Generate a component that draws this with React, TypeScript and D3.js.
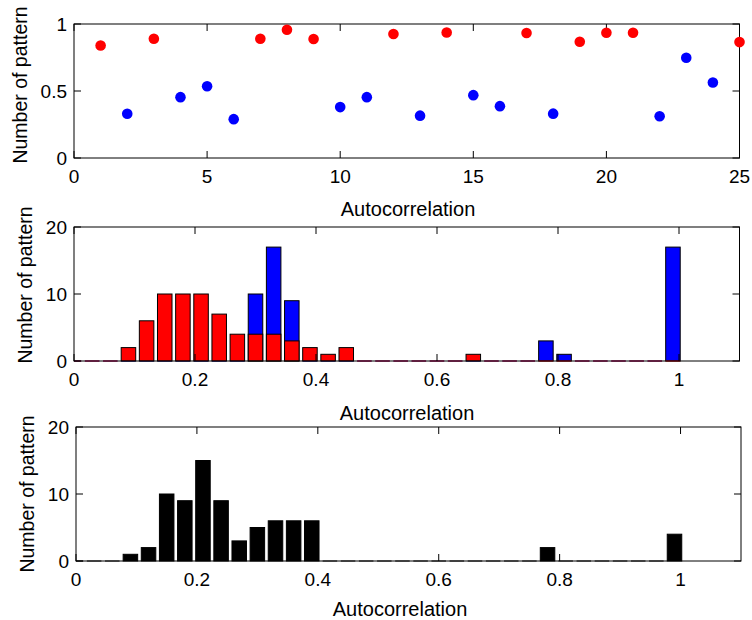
import { scaleLinear } from 'd3'

// top panel: pattern values, split by colour
const redIdx = [1, 3, 7, 8, 9, 12, 14, 17, 19, 20, 21, 25]
const redVal = [0.84, 0.89, 0.89, 0.957, 0.888, 0.925, 0.937, 0.933, 0.868, 0.935, 0.935, 0.865]
const blueIdx = [2, 4, 5, 6, 10, 11, 13, 15, 16, 18, 22, 23, 24]
const blueVal = [0.33, 0.454, 0.536, 0.29, 0.38, 0.454, 0.316, 0.469, 0.387, 0.331, 0.312, 0.748, 0.563]

// histogram bins (centres) shared by both lower panels
const binCenters = [
  0, 0.03, 0.06, 0.09, 0.12, 0.15, 0.18, 0.21, 0.24, 0.27, 0.3, 0.33, 0.36, 0.39, 0.42, 0.45, 0.48,
  0.51, 0.54, 0.57, 0.6, 0.63, 0.66, 0.69, 0.72, 0.75, 0.78, 0.81, 0.84, 0.87, 0.9, 0.93, 0.96, 0.99,
]
const blueCounts = [
  0, 0, 0, 0, 0, 0, 0, 0, 0, 0, 10, 17, 9, 0, 0, 0, 0, 0, 0, 0, 0, 0, 0, 0, 0, 0, 3, 1, 0, 0, 0, 0, 0, 17,
]
const redCounts = [
  0, 0, 0, 2, 6, 10, 10, 10, 7, 4, 4, 4, 3, 2, 1, 2, 0, 0, 0, 0, 0, 0, 1, 0, 0, 0, 0, 0, 0, 0, 0, 0, 0, 0,
]
const blackCounts = [
  0, 0, 0, 1, 2, 10, 9, 15, 9, 3, 5, 6, 6, 6, 0, 0, 0, 0, 0, 0, 0, 0, 0, 0, 0, 0, 2, 0, 0, 0, 0, 0, 0, 4,
]

const topXTicks = [0, 5, 10, 15, 20, 25]
const topYTicks = [0, 0.5, 1]
const histXTicks = [0, 0.2, 0.4, 0.6, 0.8, 1]
const histYTicks = [0, 10, 20]

const FONT = '"Liberation Sans", Arial, sans-serif'
const TICK = 7

type Frame = { left: number; right: number; top: number; bottom: number }

function Axes({
  f,
  x,
  y,
  xTicks,
  yTicks,
  xLabelX,
  xLabelDy,
  yLabelX,
  yLabelY,
}: {
  f: Frame
  x: (v: number) => number
  y: (v: number) => number
  xTicks: number[]
  yTicks: number[]
  xLabelX: number
  xLabelDy: number
  yLabelX: number
  yLabelY: number
}) {
  return (
    <g fontFamily={FONT} fill="#000">
      <rect x={f.left} y={f.top} width={f.right - f.left} height={f.bottom - f.top} fill="none" stroke="#000" strokeWidth={1} />
      {xTicks.map((t) => (
        <g key={'x' + t}>
          <line x1={x(t)} x2={x(t)} y1={f.bottom} y2={f.bottom - TICK} stroke="#000" />
          <line x1={x(t)} x2={x(t)} y1={f.top} y2={f.top + TICK} stroke="#000" />
          <text x={x(t)} y={f.bottom + 25} fontSize={19} textAnchor="middle">
            {t}
          </text>
        </g>
      ))}
      {yTicks.map((t) => (
        <g key={'y' + t}>
          <line x1={f.left} x2={f.left + TICK} y1={y(t)} y2={y(t)} stroke="#000" />
          <line x1={f.right} x2={f.right - TICK} y1={y(t)} y2={y(t)} stroke="#000" />
          <text x={f.left - 7} y={y(t) + 7} fontSize={19} textAnchor="end">
            {t}
          </text>
        </g>
      ))}
      <text x={xLabelX} y={f.bottom + xLabelDy} fontSize={20} textAnchor="middle">
        Autocorrelation
      </text>
      <text transform={`translate(${yLabelX},${yLabelY}) rotate(-90)`} fontSize={19.5} textAnchor="middle">
        Number of pattern
      </text>
    </g>
  )
}

function Bars({
  counts,
  x,
  y,
  fill,
  stroke,
}: {
  counts: number[]
  x: (v: number) => number
  y: (v: number) => number
  fill: string
  stroke: string
}) {
  const w = x(0.03 * 0.8) - x(0)
  const x0 = x(0)
  return (
    <g>
      {counts.map((c, i) => {
        const l = Math.max(x(binCenters[i]) - w / 2, x0)
        const r = x(binCenters[i]) + w / 2
        if (c === 0) return <line key={i} x1={l} x2={r} y1={y(0)} y2={y(0)} stroke={fill} strokeWidth={1} />
        return <rect key={i} x={l} y={y(c)} width={r - l} height={y(0) - y(c)} fill={fill} stroke={stroke} strokeWidth={1} />
      })}
    </g>
  )
}

export default function App() {
  const f1: Frame = { left: 74, right: 739.5, top: 24, bottom: 158 }
  const f2: Frame = { left: 74, right: 739.5, top: 227, bottom: 361 }
  const f3: Frame = { left: 76, right: 741, top: 427, bottom: 561 }

  const x1 = scaleLinear().domain([0, 25]).range([f1.left, f1.right])
  const y1 = scaleLinear().domain([0, 1]).range([f1.bottom, f1.top])
  const x2 = scaleLinear().domain([0, 1.1]).range([f2.left, f2.right])
  const y2 = scaleLinear().domain([0, 20]).range([f2.bottom, f2.top])
  const x3 = scaleLinear().domain([0, 1.1]).range([f3.left, f3.right])
  const y3 = scaleLinear().domain([0, 20]).range([f3.bottom, f3.top])

  return (
    <svg width={752} height={620} style={{ position: 'fixed', left: 0, top: 0, background: '#fff' }}>
      <rect width={752} height={620} fill="#fff" />

      {/* top: scatter */}
      <Axes f={f1} x={x1} y={y1} xTicks={topXTicks} yTicks={topYTicks} xLabelX={408} xLabelDy={58} yLabelX={27} yLabelY={85} />
      {redIdx.map((d, i) => (
        <circle key={'r' + i} cx={x1(d)} cy={y1(redVal[i])} r={5.3} fill="#ff0000" />
      ))}
      {blueIdx.map((d, i) => (
        <circle key={'b' + i} cx={x1(d)} cy={y1(blueVal[i])} r={5.3} fill="#0000ff" />
      ))}

      {/* middle: overlaid histograms */}
      <Bars counts={blueCounts} x={x2} y={y2} fill="#0000ff" stroke="#000" />
      <Bars counts={redCounts} x={x2} y={y2} fill="#ff0000" stroke="#000" />
      <Axes f={f2} x={x2} y={y2} xTicks={histXTicks} yTicks={histYTicks} xLabelX={407} xLabelDy={58.5} yLabelX={32} yLabelY={285} />

      {/* bottom: combined histogram */}
      <Bars counts={blackCounts} x={x3} y={y3} fill="#000" stroke="#000" />
      <Axes f={f3} x={x3} y={y3} xTicks={histXTicks} yTicks={histYTicks} xLabelX={400} xLabelDy={55} yLabelX={34} yLabelY={494} />
    </svg>
  )
}
